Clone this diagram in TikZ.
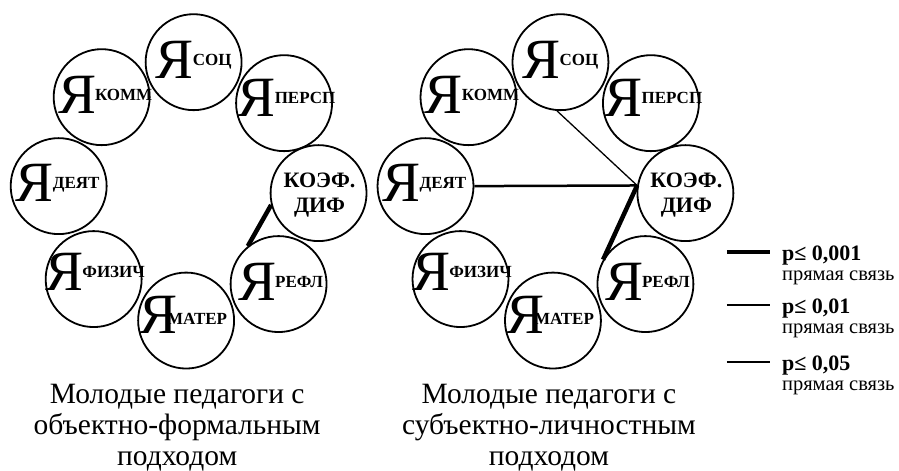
\documentclass[tikz,border=0pt]{standalone}
\usepackage{fontspec}
\setmainfont{Liberation Serif}
\newcommand{\ya}[2][13pt]{{\fontsize{57}{57}\selectfont Я}\kern-1pt\raisebox{#1}{\fontsize{17}{17}\selectfont\bfseries #2}}
\tikzset{
    ring/.style={circle,draw,line width=1.8pt,minimum size=96pt,inner sep=0pt},
    koeftext/.style={align=center,inner sep=0pt,font=\fontsize{22}{25}\selectfont\bfseries},
    captext/.style={align=center,inner sep=0pt,anchor=north,font=\fontsize{29.5}{31}\selectfont},
    ptext/.style={anchor=base west,inner sep=0pt,font=\fontsize{22}{22}\selectfont\bfseries},
    stext/.style={anchor=base west,inner sep=0pt,font=\fontsize{20.5}{20.5}\selectfont},
    link1/.style={line width=4.5pt},
    link2/.style={line width=2.5pt},
    link3/.style={line width=1.3pt}
}
\begin{document}
\begin{tikzpicture}[x=1pt,y=-1pt]
                \draw[white] (0,0) rectangle (899,469);
                \foreach \d/\dx in {a/0,b/367}{
                    \foreach \n/\x/\y/\sx/\sy/\s in {soc/193.5/62/0/-2/СОЦ,komm/101.5/97/3.5/-2.5/КОММ,persp/284/103/2.5/-5/ПЕРСП,deyat/58.5/186/-1/-3/ДЕЯТ,fizich/93.5/279/1.5/-7/ФИЗИЧ,refl/278.5/284/2/-2/РЕФЛ}{
                        \node[ring] (\n-\d) at (\x+\dx,\y) {};
                        \node[inner sep=0pt] (\n-\d-t) at ([shift={(\sx,\sy)}]\n-\d) {\ya{\s}};
                    }
                    \node[ring] (mater-\d) at (186+\dx,320.5) {};
                    \node[inner sep=0pt] (mater-\d-t) at ([shift={(-3,-6)}]mater-\d) {\ya[9pt]{\kern-9pt МАТЕР}};
                    \node[ring] (koef-\d) at (318.5+\dx,193) {};
                    \node[koeftext] (koef-\d-t) at ([shift={(1,2)}]koef-\d) {КОЭФ.\\ДИФ};
                }
                \draw[link1] (koef-a.194) -- (refl-a.129);
                \draw[link1] (koef-b.171) -- (refl-b.150);
                \draw[link2] (deyat-b.east) -- (koef-b.171);
                \draw[link3] (soc-b.266) -- (koef-b.171);
                \node[captext] (cap-a) at (177,383.5) {Молодые педагоги с\\объектно-формальным\\подходом};
                \node[captext] (cap-b) at (549,383.5) {Молодые педагоги с\\субъектно-личностным\\подходом};
                \foreach \i/\y/\p/\w in {1/252/{0,001}/4.5,2/305/{0,01}/2.2,3/362/{0,05}/1.3}{
                    \draw[line width=\w pt] (727,\y) -- (770,\y);
                    \node[ptext] (p\i) at (782,\y+8) {p≤ \p};
                    \node[stext] (s\i) at (782,\y+28.5) {прямая связь};
                }
\end{tikzpicture}
\end{document}
